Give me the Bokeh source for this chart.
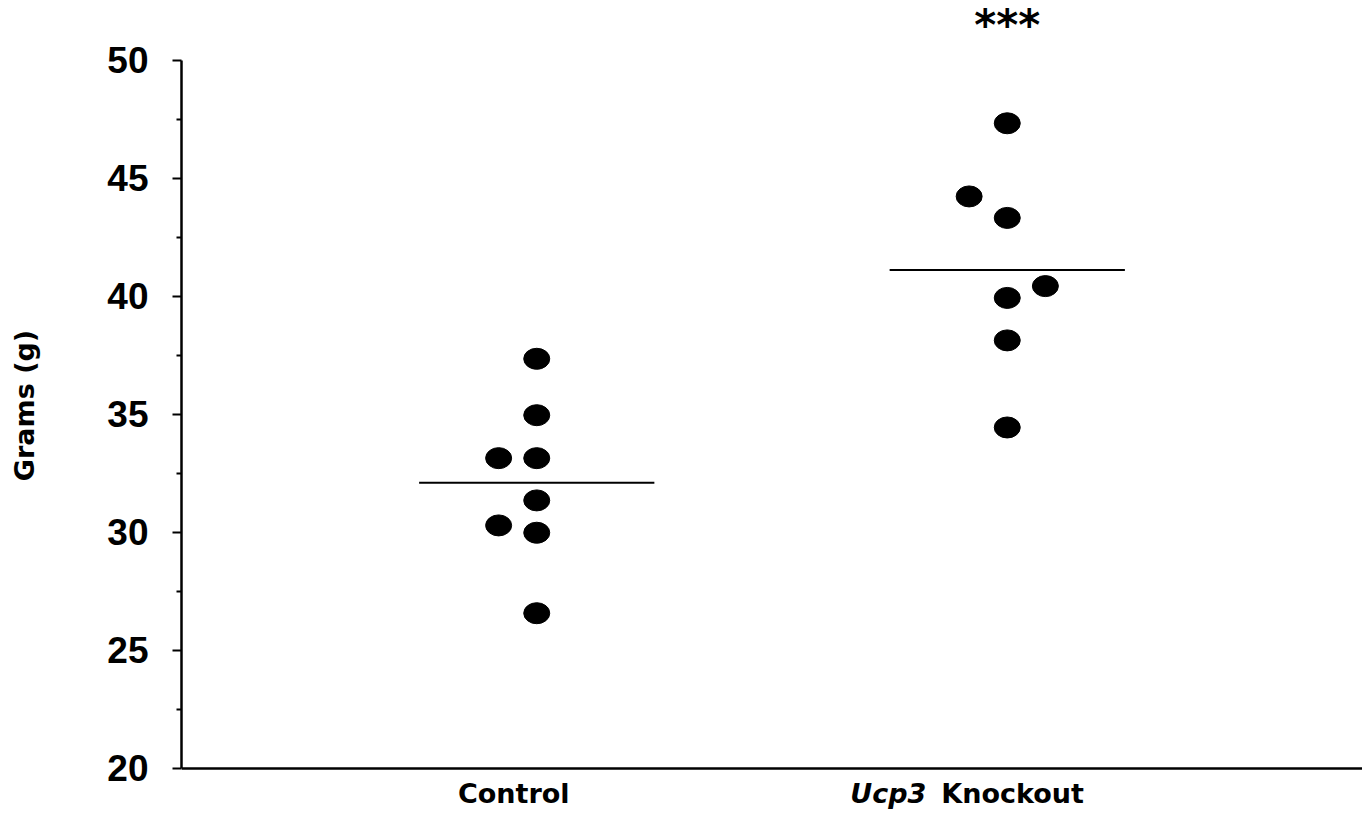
import numpy as np
from bokeh.plotting import figure
from bokeh.models import Range1d, FixedTicker, Label, Span
from bokeh.embed import file_html
from bokeh.resources import INLINE

groups = ["Control", "Ucp3 Knockout"]
control_values = [37.36, 34.97, 33.15, 33.15, 31.36, 30.30, 29.99, 26.58]
control_jitter = [0, 0, -1, 0, 0, -1, 0, 0]
knockout_values = [47.34, 44.24, 43.33, 40.44, 39.94, 38.14, 34.45]
knockout_jitter = [0, -1, 0, 1, 0, 0, 0]
y_ticks = [20, 25, 30, 35, 40, 45, 50]
y_minor = [22.5, 27.5, 32.5, 37.5, 42.5, 47.5]
y_title = "Grams (g)"
significance = "***"

JIT = 0.081
HALF = 0.25

p = figure(width=1362, height=810, output_backend="svg", toolbar_location=None,
           x_range=Range1d(0.245, 2.755), y_range=Range1d(18.22, 52.542),
           x_axis_location=None,
           min_border_left=181, min_border_top=0, min_border_bottom=0,
           min_border_right=0)
p.outline_line_color = None
p.grid.visible = False
p.background_fill_color = "white"
p.border_fill_color = "white"

# y axis
ya = p.yaxis[0]
ya.ticker = FixedTicker(ticks=y_ticks, minor_ticks=y_minor)
ya.bounds = (y_ticks[0], y_ticks[-1])
ya.axis_line_width = 2.5
ya.axis_line_color = "black"
ya.major_tick_in = 0
ya.major_tick_out = 9
ya.major_tick_line_width = 2
ya.minor_tick_in = 0
ya.minor_tick_out = 5
ya.minor_tick_line_width = 2
ya.major_label_text_font = "Liberation Sans"
ya.major_label_text_font_style = "bold"
ya.major_label_text_font_size = "37px"
ya.major_label_text_color = "black"
ya.major_label_standoff = 24
ya.axis_label = y_title
ya.axis_label_text_font = "DejaVu Sans"
ya.axis_label_text_font_style = "bold"
ya.axis_label_text_font_size = "27px"
ya.axis_label_text_color = "black"
ya.axis_label_standoff = 64

# x axis line at the bottom of the value range
p.add_layout(Span(location=y_ticks[0], dimension="width", line_color="black", line_width=2.5))

# points
for gi, (vals, jit) in enumerate([(control_values, control_jitter), (knockout_values, knockout_jitter)]):
    cx = gi + 1
    xs = [cx + j * JIT for j in jit]
    p.ellipse(x=xs, y=vals, width=26, height=21, width_units="screen", height_units="screen",
              fill_color="black", line_color="black")
    m = float(np.mean(vals))
    p.segment(x0=[cx - HALF], y0=[m], x1=[cx + HALF], y1=[m], line_color="black", line_width=2)

font = "DejaVu Sans"
LABEL_Y = 18.95
p.add_layout(Label(x=1, y=LABEL_Y, x_offset=-23, text=groups[0], text_align="center",
                   text_baseline="alphabetic", text_font=font, text_font_style="bold",
                   text_font_size="27px", text_color="black"))
gene, rest = groups[1].split(" ", 1)
p.add_layout(Label(x=2, y=LABEL_Y, x_offset=-157, text=gene, text_align="left",
                   text_baseline="alphabetic", text_font=font, text_font_style="bold italic",
                   text_font_size="27px", text_color="black"))
p.add_layout(Label(x=2, y=LABEL_Y, x_offset=-66, text=rest, text_align="left",
                   text_baseline="alphabetic", text_font=font, text_font_style="bold",
                   text_font_size="27px", text_color="black"))
p.add_layout(Label(x=2, y=51.48, text=significance, text_align="center",
                   text_baseline="alphabetic", text_font=font, text_font_style="bold",
                   text_font_size="42px", text_color="black"))

open("out.html", "w").write(file_html(p, INLINE))
